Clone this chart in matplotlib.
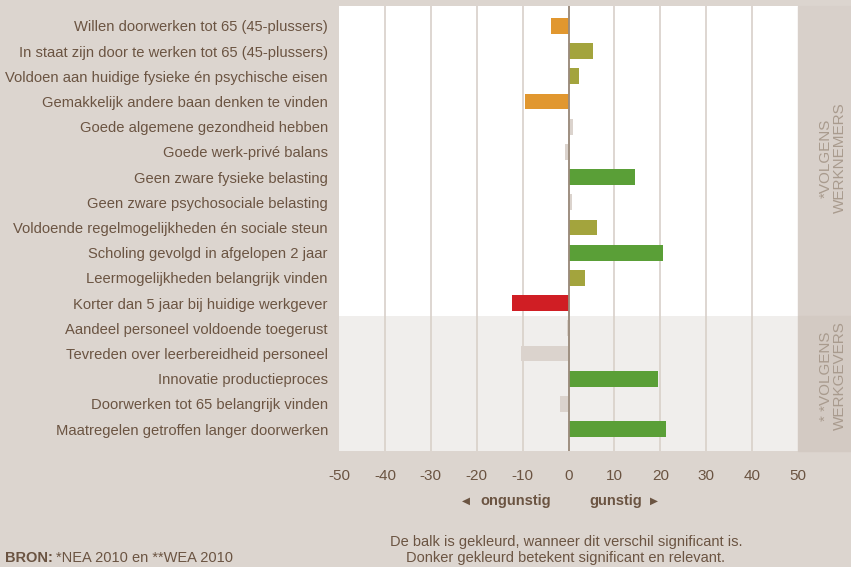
import matplotlib.pyplot as plt
import matplotlib.patches as patches
from matplotlib.transforms import offset_copy

# categories, top to bottom
labels = [
    "Willen doorwerken tot 65 (45-plussers)",
    "In staat zijn door te werken tot 65 (45-plussers)",
    "Voldoen aan huidige fysieke én psychische eisen",
    "Gemakkelijk andere baan denken te vinden",
    "Goede algemene gezondheid hebben",
    "Goede werk-privé balans",
    "Geen zware fysieke belasting",
    "Geen zware psychosociale belasting",
    "Voldoende regelmogelijkheden én sociale steun",
    "Scholing gevolgd in afgelopen 2 jaar",
    "Leermogelijkheden belangrijk vinden",
    "Korter dan 5 jaar bij huidige werkgever",
    "Aandeel personeel voldoende toegerust",
    "Tevreden over leerbereidheid personeel",
    "Innovatie productieproces",
    "Doorwerken tot 65 belangrijk vinden",
    "Maatregelen getroffen langer doorwerken",
]
values = [-3.8, 5.3, 2.2, -9.5, 0.9, -0.8, 14.4, 0.7, 6.2, 20.5, 3.6, -12.4,
          -0.4, -10.4, 19.5, -1.9, 21.2]
# o = orange, l = olive (significant), g = green (significant & relevant), r = red, n = not significant
kinds = ["o", "l", "l", "o", "n", "n", "g", "n", "l", "g", "l", "r",
         "n", "n", "g", "n", "g"]
ticks = [-50, -40, -30, -20, -10, 0, 10, 20, 30, 40, 50]

palette = {"o": "#e1972f", "l": "#a3a43d", "g": "#5a9f37", "r": "#d01e24", "n": "#dbd3cd"}
BG = "#dcd5cf"
TXT = "#6b5442"
plt.rcParams["font.family"] = ["Liberation Sans", "DejaVu Sans"]

fig = plt.figure(figsize=(8.51, 5.67), dpi=100, facecolor=BG)
W, H = 851, 567
x0, x1, y0, y1 = 339, 798, 6, 451
ax = fig.add_axes([x0 / W, 1 - y1 / H, (x1 - x0) / W, (y1 - y0) / H])
ax.set_facecolor("white")

# side panels
fig.patches.append(patches.Rectangle((x1 / W, 1 - 316 / H), (W - x1) / W, (316 - y0) / H,
                                     transform=fig.transFigure, color="#d8d0ca", zorder=0))
fig.patches.append(patches.Rectangle((x1 / W, 1 - y1 / H), (W - x1) / W, (y1 - 316) / H,
                                     transform=fig.transFigure, color="#d3cac3", zorder=0))

n = len(labels)
ypos = list(range(n))
ax.axhspan(11.5, 16.87, color="#f0eeec", zorder=0, lw=0)
for t in ticks[1:-1]:
    ax.axvline(t, color="#d8d0c9", lw=1.2, zorder=1)
ax.barh(ypos, values, height=0.63, color=[palette[k] for k in kinds], zorder=2)
ax.axvline(0, color="#9a8a7b", lw=1.3, zorder=3)

ax.set_xlim(-50, 50)
ax.set_ylim(16.87, -0.79)
ax.set_yticks(ypos)
ax.set_yticklabels(labels, fontsize=10.6, color=TXT)
ax.set_xticks(ticks)
ax.set_xticklabels([str(t) for t in ticks], fontsize=11, color=TXT)
ax.tick_params(axis="y", length=0, pad=8)
ax.tick_params(axis="x", length=0, pad=13)
for s in ax.spines.values():
    s.set_visible(False)

# direction hints
fig.text(466 / W, 1 - 501 / H, "◀", fontsize=7.5, color=TXT, ha="center", va="center",
         family="DejaVu Sans")
fig.text(480 / W, 1 - 501 / H, "ongunstig", fontsize=10.5, color=TXT, ha="left", va="center",
         weight="bold")
fig.text(642 / W, 1 - 501 / H, "gunstig", fontsize=10.5, color=TXT, ha="right", va="center",
         weight="bold")
fig.text(654 / W, 1 - 501 / H, "▶", fontsize=7.5, color=TXT, ha="center", va="center",
         family="DejaVu Sans")

# group labels in the right panel
fig.text(833 / W, 1 - 158 / H, "*VOLGENS\nWERKNEMERS", rotation=90, fontsize=11,
         color="#a99b8e", ha="center", va="center", multialignment="center", linespacing=1.05)
fig.text(833 / W, 1 - 376 / H, "* *VOLGENS\nWERKGEVERS", rotation=90, fontsize=11,
         color="#a99b8e", ha="center", va="center", multialignment="center", linespacing=1.05)

# footer
bron = fig.text(5 / W, 1 - 558 / H, "BRON:", fontsize=10.5, color=TXT, weight="bold",
                ha="left", va="center")
fig.canvas.draw()
bx = bron.get_window_extent().x1
fig.text((bx + 3) / W, 1 - 558 / H, "*NEA 2010 en **WEA 2010", fontsize=10.5, color=TXT,
         ha="left", va="center")
fig.text(566 / W, 1 - 550 / H,
         "De balk is gekleurd, wanneer dit verschil significant is.\n"
         "Donker gekleurd betekent significant en relevant.",
         fontsize=10.5, color=TXT, ha="center", va="center", multialignment="center",
         linespacing=1.15)

fig.savefig("out.png", dpi=100, facecolor=BG)
